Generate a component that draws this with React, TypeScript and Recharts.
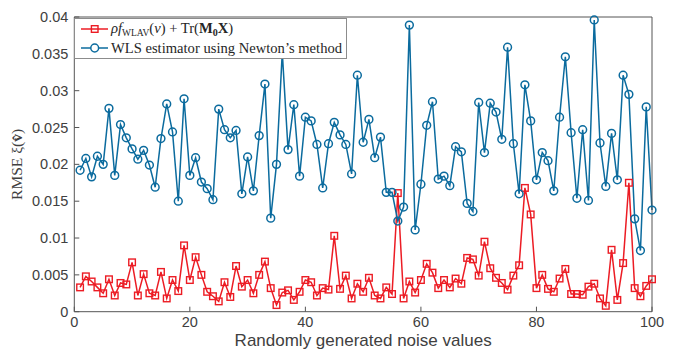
import React from 'react';
import { LineChart, Line, XAxis, YAxis } from 'recharts';

// x: index of the random noise draw
const noiseIndex = Array.from({ length: 100 }, (_, i) => i + 1);

// rho*f_WLAV(nu) + Tr(M0 X)
const wlavRmse = [
  0.0033, 0.0048, 0.0041, 0.0033, 0.0025, 0.0044, 0.0022, 0.0039, 0.0037, 0.0067,
  0.0022, 0.0051, 0.0025, 0.0022, 0.0054, 0.0018, 0.0043, 0.0028, 0.009, 0.0043,
  0.0074, 0.005, 0.0027, 0.0021, 0.0014, 0.004, 0.002, 0.0062, 0.0034, 0.0043,
  0.0025, 0.005, 0.0068, 0.0032, 0.0009, 0.0026, 0.0029, 0.0016, 0.0027, 0.0043,
  0.004, 0.0022, 0.0032, 0.003, 0.0103, 0.0031, 0.0049, 0.0018, 0.0038, 0.0027,
  0.0046, 0.0022, 0.0018, 0.0033, 0.0024, 0.0161, 0.0018, 0.0041, 0.0026, 0.0043,
  0.0065, 0.0053, 0.0032, 0.0043, 0.0033, 0.0045, 0.0038, 0.0073, 0.0071, 0.0049,
  0.0095, 0.0059, 0.0046, 0.0039, 0.003, 0.0049, 0.0063, 0.0168, 0.0132, 0.0032,
  0.005, 0.0031, 0.0027, 0.0045, 0.0058, 0.0024, 0.0024, 0.0023, 0.0034, 0.0038,
  0.0018, 0.0008, 0.0084, 0.0016, 0.0066, 0.0175, 0.0032, 0.0021, 0.0035, 0.0044,
];

// WLS estimator using Newton's method
const newtonRmse = [
  0.0192, 0.0208, 0.0183, 0.0211, 0.02, 0.0276, 0.0185, 0.0254, 0.0236, 0.0221,
  0.0207, 0.0219, 0.0199, 0.0169, 0.0235, 0.0282, 0.0244, 0.015, 0.0289, 0.0185,
  0.0209, 0.0176, 0.0167, 0.0152, 0.0275, 0.0247, 0.0236, 0.0246, 0.016, 0.021,
  0.0164, 0.0239, 0.0309, 0.0127, 0.02, 0.0352, 0.022, 0.0281, 0.0184, 0.0264,
  0.0259, 0.0227, 0.0168, 0.0228, 0.0257, 0.024, 0.0227, 0.0187, 0.0321, 0.023,
  0.0261, 0.0209, 0.0237, 0.0162, 0.0162, 0.0123, 0.0142, 0.0389, 0.0111, 0.0173,
  0.0253, 0.0285, 0.018, 0.0184, 0.0171, 0.0224, 0.0217, 0.0147, 0.0136, 0.0284,
  0.0216, 0.0283, 0.0271, 0.0234, 0.0359, 0.0228, 0.016, 0.0308, 0.0259, 0.0179,
  0.0216, 0.0205, 0.0164, 0.0264, 0.0346, 0.0243, 0.0154, 0.0247, 0.0151, 0.0396,
  0.0229, 0.017, 0.0242, 0.0179, 0.0321, 0.0295, 0.0126, 0.0083, 0.0278, 0.0138,
];

const xTicks = [0, 20, 40, 60, 80, 100];
const yTicks = [0, 0.005, 0.01, 0.015, 0.02, 0.025, 0.03, 0.035, 0.04];

const data = noiseIndex.map((x, i) => ({ x, wlav: wlavRmse[i], newton: newtonRmse[i] }));

const RED = '#ec1c24';
const BLUE = '#0b6b9e';
const AXIS = '#555555';
const LABEL = '#404040';
const SANS = '"Liberation Sans", Arial, sans-serif';
const SERIF = '"Liberation Serif", "Times New Roman", serif';

const SquareDot = (props: any) => {
  const { cx, cy } = props;
  if (cx == null || cy == null) return null;
  return (
    <rect x={cx - 3.3} y={cy - 3.3} width={6.6} height={6.6} fill="none" stroke={RED} strokeWidth={1.4} />
  );
};

const YLabel = (props: any) => {
  const { viewBox } = props;
  const x = viewBox.x + 22;
  const y = viewBox.y + viewBox.height / 2;
  return (
    <text x={x} y={y} transform={`rotate(-90 ${x} ${y})`} textAnchor="middle"
      fontFamily={SERIF} fontSize={15.5} fill={LABEL}>
      RMSE ξ(<tspan fontWeight="bold">v̂</tspan>)
    </text>
  );
};

function LegendBox() {
  const row = (top: number, marker: React.ReactNode, color: string, label: React.ReactNode) => (
    <div style={{ position: 'absolute', left: 0, top, height: 18, display: 'flex', alignItems: 'center', whiteSpace: 'nowrap' }}>
      <svg width={34} height={18} style={{ marginLeft: 4 }}>
        <line x1={2} y1={9} x2={29} y2={9} stroke={color} strokeWidth={1.5} />
        {marker}
      </svg>
      <span style={{ marginLeft: -2 }}>{label}</span>
    </div>
  );
  return (
    <div style={{
      position: 'absolute', left: 74, top: 18, width: 273, height: 41, boxSizing: 'border-box',
      border: '1px solid #8c8c8c', background: '#fff', fontFamily: SERIF, fontSize: 14.6, color: '#262626',
    }}>
      {row(1, <rect x={12.4} y={5.7} width={6.6} height={6.6} fill="none" stroke={RED} strokeWidth={1.4} />, RED,
        <>
          <i>ρf</i><span style={{ fontSize: 9.5, verticalAlign: -3 }}>WLAV</span>(<i>ν</i>) + Tr(<b>M</b><b style={{ fontSize: 10, verticalAlign: -3 }}>0</b><b>X</b>)
        </>)}
      {row(20, <circle cx={15.7} cy={9} r={3.9} fill="#fff" stroke={BLUE} strokeWidth={1.5} />, BLUE,
        <>WLS estimator using Newton’s method</>)}
    </div>
  );
}

export default function App() {
  return (
    <div style={{ position: 'relative', width: 676, height: 350 }}>
      <style>{'body{margin:0}'}</style>
      <LineChart width={676} height={350} data={data} margin={{ top: 0, right: 0, bottom: 0, left: 0 }}>
        <XAxis dataKey="x" type="number" domain={[0, 100]} ticks={xTicks} interval={0} height={38.3}
          tickSize={-5} tickMargin={10} stroke={AXIS}
          tick={{ fill: LABEL, fontSize: 14.5, fontFamily: SANS }}
          label={{ value: 'Randomly generated noise values', position: 'insideBottom', offset: 4.5, fill: LABEL, fontSize: 17, fontFamily: SANS }} />
        <XAxis xAxisId="top" orientation="top" type="number" domain={[0, 100]} ticks={xTicks} interval={0}
          height={17} tickSize={-5} tick={false} stroke={AXIS} allowDataOverflow />
        <YAxis type="number" domain={[0, 0.04]} ticks={yTicks} interval={0} width={74.3}
          tickSize={-5} tickMargin={11} stroke={AXIS}
          tick={{ fill: LABEL, fontSize: 14.5, fontFamily: SANS }}
          label={<YLabel />} />
        <YAxis yAxisId="right" orientation="right" type="number" domain={[0, 0.04]} ticks={yTicks} interval={0}
          width={24} tickSize={-5} tick={false} stroke={AXIS} allowDataOverflow />
        <Line type="linear" dataKey="wlav" stroke={RED} strokeWidth={1.5} dot={<SquareDot />} activeDot={false} isAnimationActive={false} />
        <Line type="linear" dataKey="newton" stroke={BLUE} strokeWidth={1.5}
          dot={{ r: 3.9, fill: 'none', stroke: BLUE, strokeWidth: 1.5 }} activeDot={false} isAnimationActive={false} />
      </LineChart>
      <LegendBox />
    </div>
  );
}
